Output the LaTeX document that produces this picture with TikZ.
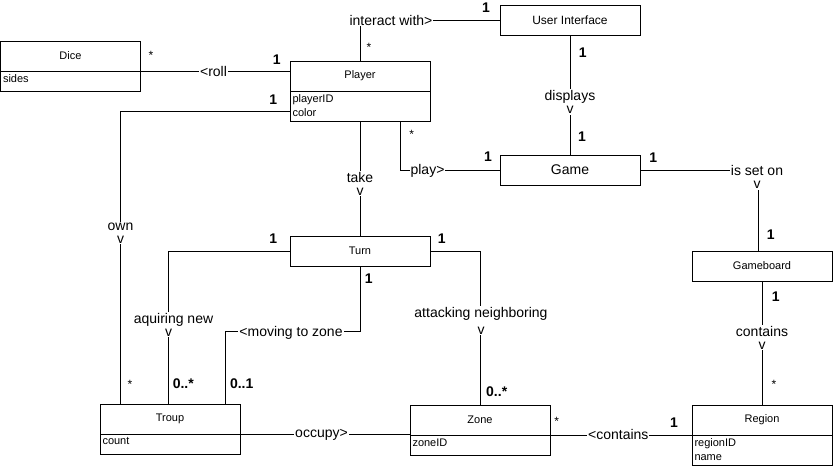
\documentclass[tikz,border=0pt]{standalone}
\usepackage{fontspec}
\setmainfont{Liberation Sans}
\begin{document}
\begin{tikzpicture}[x=1pt,y=-1pt,line width=1pt,
  box/.style={draw,minimum width=140pt,minimum height=30pt,inner sep=0pt,outer sep=0pt,font=\fontsize{11}{13}\selectfont},
  attrbox/.style={draw,minimum width=140pt,inner sep=0pt,outer sep=0pt},
  attrtxt/.style={anchor=north west,inner xsep=2pt,inner ysep=3pt,align=left,font=\fontsize{11}{13.8}\selectfont},
  lbl/.style={fill=white,inner sep=1pt,align=center,font=\fontsize{14}{13}\selectfont},
  mult/.style={inner sep=0pt,font=\bfseries\fontsize{14}{14}\selectfont},
  star/.style={inner sep=0pt,font=\fontsize{12}{12}\selectfont}]
\useasboundingbox (0,0) rectangle (833,466);
% classes
\node[box] (diceH) at (70.5,56) {Dice};
\node[attrbox,minimum height=20pt,anchor=north] (diceA) at (diceH.south) {};
\node[attrtxt] (diceT) at (diceA.north west) {sides};
\node[box] (playerH) at (360,76) {Player};
\node[attrbox,minimum height=30pt,anchor=north] (playerA) at (playerH.south) {};
\node[attrtxt] (playerT) at (playerA.north west) {playerID\\color};
\node[box,font=\fontsize{12}{14}\selectfont] (ui) at (570,20) {User Interface};
\node[box,font=\fontsize{14}{16}\selectfont] (game) at (570,170) {Game};
\node[box] (turn) at (360,251) {Turn};
\node[box] (gameboard) at (762,266) {Gameboard};
\node[box] (troupH) at (170,419) {Troup};
\node[attrbox,minimum height=20pt,anchor=north] (troupA) at (troupH.south) {};
\node[attrtxt] (troupT) at (troupA.north west) {count};
\node[box] (zoneH) at (480,420) {Zone};
\node[attrbox,minimum height=20pt,anchor=north] (zoneA) at (zoneH.south) {};
\node[attrtxt] (zoneT) at (zoneA.north west) {zoneID};
\node[box] (regionH) at (762,420) {Region};
\node[attrbox,minimum height=30pt,anchor=north] (regionA) at (regionH.south) {};
\node[attrtxt] (regionT) at (regionA.north west) {regionID\\name};
% connectors
\draw (diceH.south east) -- (diceH.south east -| playerH.west);
\draw (playerH.north) |- (ui.west);
\draw (ui.south) -- (game.north);
\draw ([xshift=40pt]playerA.south) |- (game.west);
\draw (game.east) -| ([xshift=-4pt]gameboard.north);
\draw (gameboard.south) -- (regionH.north);
\draw (playerA.south) -- (turn.north);
\draw ([yshift=-5pt]playerA.west) -| ([xshift=-50pt]troupH.north);
\draw (turn.west) -| ([xshift=-2pt]troupH.north);
\draw (turn.south) -- ++(0,65.5) -| ([xshift=55pt]troupH.north);
\draw (turn.east) -| (zoneH.north);
\draw (troupH.south east) -- (troupH.south east -| zoneH.west);
\draw (zoneH.south east) -- (regionH.south west);
% edge labels
\node[lbl] (lroll) at (213.5,71) {<roll};
\node[lbl] (linteract) at (391,20) {interact with>};
\node[lbl] (ldisplays) at (570,102) {displays\\v};
\node[lbl] (lplay) at (427.5,171) {play>};
\node[lbl] (lisseton) at (757,177) {is set on\\v};
\node[lbl] (lcontains) at (762,337.5) {contains\\v};
\node[lbl] (ltake) at (360,183.5) {take\\v};
\node[lbl] (lown) at (120.5,233) {own\\v};
\node[lbl] (laquiring) at (173.5,324.5) {aquiring new\\v\hspace*{10pt}};
\node[lbl] (lmoving) at (291,333) {<moving to zone};
\node[lbl] (lattacking) at (481,320.5) {attacking neighboring\\[4pt]v};
\node[lbl] (loccupy) at (321.5,435) {occupy>};
\node[lbl] (lcontainsz) at (618.3,434.5) {<contains};
% multiplicities
\node[star] (m1) at (151,55.5) {*};
\node[mult] (m2) at (276.7,59.5) {1};
\node[star] (m3) at (369,47.7) {*};
\node[mult] (m4) at (486,7.5) {1};
\node[mult] (m5) at (582.7,52.7) {1};
\node[mult] (m6) at (582,136.7) {1};
\node[star] (m7) at (411.7,134) {*};
\node[mult] (m8) at (488,157) {1};
\node[mult] (m9) at (653.3,157.7) {1};
\node[mult] (m10) at (770.7,235) {1};
\node[mult] (m11) at (775.7,296.7) {1};
\node[star] (m12) at (774,384) {*};
\node[mult] (m13) at (273.3,99.5) {1};
\node[star] (m14) at (130,384) {*};
\node[mult] (m15) at (273.3,238.5) {1};
\node[mult] (m16) at (441.7,238.5) {1};
\node[mult] (m17) at (368.7,279) {1};
\node[mult] (m18) at (183.3,383.3) {0..*};
\node[mult] (m19) at (241.7,383.3) {0..1};
\node[mult] (m20) at (496.7,391.7) {0..*};
\node[star] (m21) at (556.7,421.7) {*};
\node[mult] (m22) at (674,422.7) {1};
\end{tikzpicture}
\end{document}
